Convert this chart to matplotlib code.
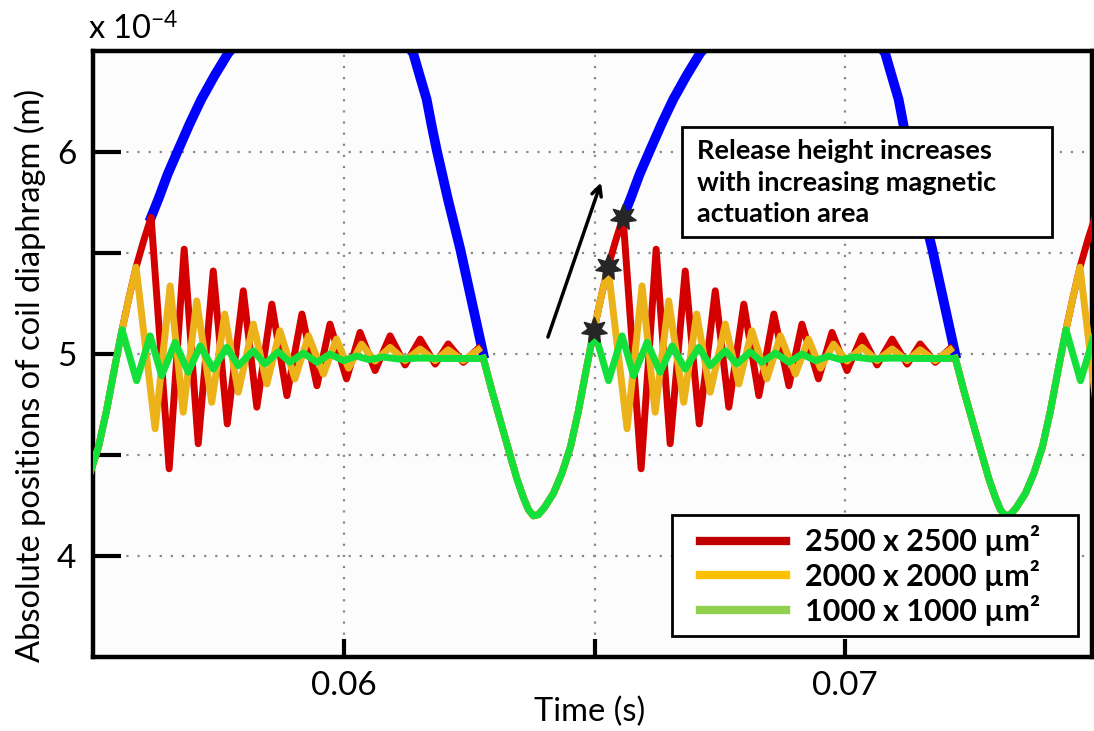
import numpy as np
import matplotlib
matplotlib.use("Agg")
from matplotlib import pyplot as plt
from matplotlib.lines import Line2D
from matplotlib.patches import Rectangle

plt.rcParams['font.family'] = ['Lato', 'DejaVu Sans']
plt.rcParams['mathtext.default'] = 'regular'

# repetition period of the actuation cycle (s)
CYCLE = 0.00942

# fall after the drop, trough and rise up to the 1000 um release (common to all sizes)
fall_t = [0.06278, 0.06295, 0.06312, 0.06328, 0.06345, 0.06358, 0.06368, 0.06378,
          0.06388, 0.06400, 0.06418, 0.06435, 0.06452, 0.06468, 0.06484, 0.06499]
fall_v = [4.98, 4.82, 4.67, 4.53, 4.383, 4.29, 4.23, 4.199,
          4.205, 4.24, 4.31, 4.41, 4.54, 4.72, 4.93, 5.12]

# further rise before release for the larger areas
yellow_rise_t = [0.06513, 0.06527]
yellow_rise_v = [5.28, 5.43]
red_rise_t = [0.06513, 0.06527, 0.06542, 0.06557]
red_rise_v = [5.28, 5.43, 5.56, 5.677]

red_osc_t = [0.05651, 0.05681, 0.05709, 0.05739, 0.05767, 0.05799, 0.05826,
             0.05856, 0.05886, 0.05916, 0.05946, 0.05972, 0.06005, 0.06032,
             0.06062, 0.06092, 0.06122, 0.06152, 0.06182, 0.06208, 0.06238,
             0.06268]
red_osc_v = [4.432, 5.519, 4.556, 5.411, 4.654, 5.313, 4.737,
             5.247, 4.794, 5.198, 4.843, 5.148, 4.877, 5.107,
             4.918, 5.09, 4.946, 5.074, 4.95, 5.05, 4.959,
             5.028]

yellow_osc_t = [0.05623, 0.05653, 0.05679, 0.05706, 0.05736, 0.05762, 0.05789,
                0.05819, 0.05846, 0.05872, 0.05902, 0.05929, 0.05959, 0.05985,
                0.06009, 0.06035, 0.06062, 0.06092, 0.06122, 0.06152, 0.06182,
                0.06208, 0.06238, 0.06268]
yellow_osc_v = [4.63, 5.337, 4.712, 5.263, 4.761, 5.198, 4.811,
                5.148, 4.852, 5.115, 4.877, 5.09, 4.901, 5.074,
                4.93, 5.049, 4.965, 5.033, 4.967, 5.025, 4.967,
                5.021, 4.967, 5.021]

green_osc_t = [0.05586, 0.05613, 0.05636, 0.05663, 0.05689, 0.05713, 0.05739,
               0.05766, 0.05789, 0.05819, 0.05842, 0.05869, 0.05892, 0.05919,
               0.05946, 0.05972, 0.05999, 0.06025, 0.0605, 0.06078, 0.0611,
               0.0615, 0.062, 0.06268]
green_osc_v = [4.868, 5.09, 4.893, 5.058, 4.91, 5.04, 4.926,
               5.033, 4.942, 5.016, 4.951, 5.011, 4.959, 5.005,
               4.959, 5.0, 4.967, 4.99, 4.972, 4.985, 4.975,
               4.98, 4.978, 4.978]

# free flight of the largest diaphragm between release and drop
blue_t = [0.06557, 0.06572, 0.06590, 0.06611, 0.06634, 0.06657, 0.06684, 0.06711,
          0.068, 0.069, 0.07, 0.0708, 0.07094, 0.07107, 0.07117, 0.07127,
          0.07150, 0.07174, 0.07197, 0.0722]
blue_v = [5.677, 5.77, 5.89, 6.01, 6.14, 6.26, 6.38, 6.49,
          6.74, 6.83, 6.74, 6.49, 6.37, 6.26, 6.13, 6.01,
          5.76, 5.52, 5.26, 5.0]

# release points marked in the middle cycle
release_t = [0.06499, 0.06527, 0.06557]
release_v = [5.12, 5.43, 5.677]

labels = ['2500 x 2500 \u00b5m\u00b2', '2000 x 2000 \u00b5m\u00b2', '1000 x 1000 \u00b5m\u00b2']
line_colors = ['#D40000', '#EBB21A', '#14E03C']
legend_colors = ['#C00000', '#FFC000', '#92D050']
blue = '#0000FF'


def cycle(rise_t, rise_v, osc_t, osc_v):
    t = np.concatenate([fall_t, rise_t, np.array(osc_t) + CYCLE])
    v = np.concatenate([fall_v, rise_v, osc_v])
    return t, v


red = cycle(red_rise_t, red_rise_v, red_osc_t, red_osc_v)
yellow = cycle(yellow_rise_t, yellow_rise_v, yellow_osc_t, yellow_osc_v)
green = cycle([], [], green_osc_t, green_osc_v)

fig = plt.figure(figsize=(10.94, 7.31), dpi=100)
ax = fig.add_axes([0.085, 0.1012, 0.9132, 0.829])
ax.set_facecolor('#fcfcfc')

for shift in (-CYCLE, 0, CYCLE):
    for (t, v), c in zip([red, yellow, green], line_colors):
        ax.plot(t + shift, v, color=c, lw=5, solid_joinstyle='round', zorder=3)
    ax.plot(np.array(blue_t) + shift, blue_v, color=blue, lw=7,
            solid_joinstyle='round', zorder=2.5)

ax.plot(release_t, release_v, ls='none', marker=(7, 1, 0), ms=19,
        color='#262626', zorder=5)

ax.annotate('', xy=(0.06513, 5.849), xytext=(0.06407, 5.084),
            arrowprops=dict(arrowstyle='->,head_length=0.7,head_width=0.35',
                            lw=2.5, color='black', shrinkA=0, shrinkB=0),
            zorder=6)

# annotation box
ax.add_patch(Rectangle((0.5896, 0.693), 0.3704, 0.1816, transform=ax.transAxes,
                       facecolor='white', edgecolor='black', lw=2, zorder=7))
ax.text(0.6046, 0.783, 'Release height increases\nwith increasing magnetic\nactuation area',
        transform=ax.transAxes, fontsize=19.5, fontweight='bold', ha='left',
        va='center', linespacing=1.38, zorder=8)

ax.set_xlim(0.05499, 0.07493)
ax.set_ylim(3.5, 6.5)
ax.set_xticks([0.06, 0.065, 0.07])
ax.set_xticklabels(['0.06', '', '0.07'])
ax.set_yticks([4, 4.5, 5, 5.5, 6])
ax.set_yticklabels(['4', '', '5', '', '6'])
ax.tick_params(axis='both', direction='in', width=3, labelsize=24, top=False, right=False)
ax.tick_params(axis='y', length=20, pad=12)
ax.tick_params(axis='x', length=13, pad=10)
ax.grid(True, ls=(0, (1, 4)), color='#888888', lw=1.6)
ax.set_axisbelow(True)
for s in ax.spines.values():
    s.set_linewidth(3.2)

ax.set_xlabel('Time (s)', fontsize=23.5)
ax.xaxis.set_label_coords(0.497, -0.091)
ax.xaxis.label.set_va('center')
ax.set_ylabel('Absolute positions of coil diaphragm (m)', fontsize=23.5)
ax.yaxis.set_label_coords(-0.063, 0.464)
ax.yaxis.label.set_va('center')
ax.text(-0.005, 1.036, r'x 10$^{-4}$', transform=ax.transAxes, fontsize=23.5,
        ha='left', va='center')

# legend frame drawn separately so the entries can sit inside with wide margins
ax.add_patch(Rectangle((0.5796, 0.0347), 0.4064, 0.1996, transform=ax.transAxes,
                       facecolor='white', edgecolor='black', lw=2, zorder=8))
handles = [Line2D([], [], color=c, lw=6) for c in legend_colors]
leg = ax.legend(handles, labels, loc='center left', bbox_to_anchor=(0.6076, 0.1345),
                prop={'weight': 'bold', 'size': 22}, handlelength=2.82,
                handletextpad=0.6, labelspacing=0.12, borderpad=0,
                borderaxespad=0, frameon=False)
leg.set_zorder(9)

fig.savefig('out.png', dpi=100)
